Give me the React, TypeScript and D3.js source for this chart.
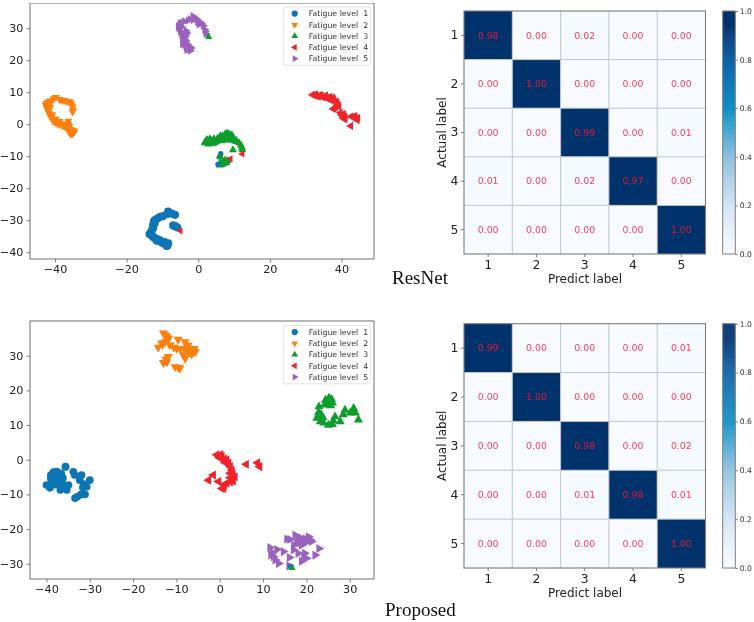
import React, { useEffect, useRef } from "react";
import * as d3 from "d3";

type Pt = [number, number];

const levelNames = ["Fatigue level  1", "Fatigue level  2", "Fatigue level  3", "Fatigue level  4", "Fatigue level  5"];
const levelColors = ["#0a74b4", "#ff7f0e", "#0a9e2c", "#f0222a", "#9a62bd"];
const classLabels = ["1", "2", "3", "4", "5"];

// ResNet t-SNE clusters
const resBlue: Pt[] = [
  [-6.5, -31.8], [-5.9, -32.2], [-7, -31.6], [-6.5, -28.3], [-7.4, -27.9], [-8.4, -27.3], [-8.6, -28], [-9.8, -28.7],
  [-10.6, -28.9], [-11.3, -29.4], [-12.1, -29.9], [-12.4, -30.4], [-12.6, -31.5], [-12.2, -31], [-12.6, -32.4],
  [-13, -33.2], [-13.6, -34.3], [-13.2, -34.6], [-12.6, -35.2], [-12.1, -35.6], [-11.6, -36.4], [-11.6, -35.8],
  [-10.8, -36.2], [-10.4, -36.8], [-9.8, -37.2], [-9.4, -36.8], [-9, -37.6], [-8.6, -37.9], [-8.4, -37.2], [-8.8, -38],
];
const resOrange: Pt[] = [
  [-35.1, 3.9], [-35, 4.5], [-35.1, 5.5], [-35.4, 6.3], [-35.8, 7], [-36.2, 7.1], [-36.7, 7.2], [-37.2, 7.4], [-37.7, 7.5],
  [-38.3, 7.6], [-38.8, 7.8], [-39.8, 8.4], [-40.4, 8], [-41.2, 7.4], [-41.8, 7.1], [-42.4, 6.6], [-42.6, 6], [-42.4, 5.4],
  [-42.2, 4.8], [-42, 4.2], [-41.7, 3.5], [-41.4, 2.8], [-41.1, 2.2], [-40.8, 1.6], [-40.5, 1], [-40, 0.6], [-39.4, 0.3],
  [-38.8, 0], [-38.2, -0.2], [-37.7, -0.5], [-37.2, -0.8], [-36.8, -1], [-36.3, -1.3], [-35.8, -1.6], [-35.4, -1.8],
  [-34.8, -2], [-34.6, -2.4], [-35.1, -2.9], [-35.6, -3.1], [-36, -2.6], [-36.3, 1], [-36.4, 0], [-36, -0.6],
  [-41.4, 5.2], [-40.8, 3], [-39.8, 1.6], [-38.8, 0.9], [-37.6, 0.2], [-41.4, 6.4],
];
const resGreen: Pt[] = [
  [2, -5.4], [2.4, -4.8], [3, -5.8], [3.2, -4.6], [3.8, -5.4], [4.4, -4.6], [4.6, -5.8], [5.2, -5], [6, -5], [6.6, -5.2],
  [6.2, -3.6], [6.8, -3.6], [7.4, -3.2], [7.9, -2.8], [8.4, -3], [8.8, -3.2], [9.4, -3.3], [7.4, -4.6], [8.2, -4.8], [8.8, -5],
  [9.4, -5], [9.8, -4.8], [10.2, -5.2], [10.7, -5.4], [11.4, -5.8], [11.9, -6.5], [12.2, -7.2], [12.3, -8], [9.7, -8],
  [6, -10], [6.1, -12], [6.9, -11.8], [7.9, -12], [7.5, -11.2], [8.2, -11.4], [6, -12.8], [6.6, -12.6], [7.2, -12.2],
  [2.6, -5.2], [3.6, -5], [5, -5.4], [10.6, -5], [1.8, -5.8], [2.8, -6.2], [4, -6], [5.4, -4.4],
];
const resRed: Pt[] = [
  [31.9, 9.2], [32.8, 9.4], [34, 9.2], [35.4, 8.8], [36.8, 8.6], [37.8, 7.8], [38.7, 7], [39.1, 6.2], [39.3, 5.5],
  [37.7, 4.8], [38.4, 5.4], [40, 2.9], [40.4, 2], [41, 1.5], [43.3, 2.4], [44, 1.8], [44.4, 1.3], [42.6, -0.5],
  [33.6, 8.6], [35.8, 8.2], [33, 8.8], [34.8, 8.4], [36.4, 7.8], [37.6, 8.4], [40.6, 3.2], [41, 2.4], [42.6, 2.4],
  [32.4, 9], [34.4, 9], [35.6, 9], [36.2, 8.4], [37.2, 7.4], [38.2, 7.2], [38.8, 6], [39.7, 3.6], [43.8, 2.6], [44.6, 2], [38, 5],
];
const resPurple: Pt[] = [
  [2.2, 28.2], [2, 29], [1.8, 29.6], [1.4, 30.8], [0.9, 31.6], [0.4, 32], [-0.4, 32.8], [-1, 33.4], [-1.5, 33.8], [-2.2, 32.8],
  [-2.8, 32.4], [-3.8, 32.2], [-4.4, 31.8], [-5, 31.6], [-5.4, 30], [-5.2, 31], [-5, 29], [-4.6, 27.9], [-3.2, 28.5], [-3.6, 27.4],
  [-4.4, 26.8], [-4.3, 25.7], [-3.8, 24.8], [-3.4, 26], [-2.8, 23.4], [-2.4, 24.2], [-3.2, 23.2], [-2.2, 23], [-3.4, 29.2],
  [-4.6, 30.4], [-1.4, 32.6], [0.2, 31.2], [-4.6, 28.8], [-3, 25], [-3.8, 26.6], [-4.2, 27.4], [-3.6, 28], [-3.4, 24],
  [-4.4, 25], [-2, 23.8], [-0.2, 32], [-5.6, 30.6],
];
const resStrays: [number, number, number][] = [
  [0, 6.3, -9.2], [0, 6.1, -10], [0, 5.5, -12.5], [2, 6.3, -10.4], [2, 2.9, 27.3],
  [3, -5, -33.3], [3, 9, -10.8], [3, 12.3, -9.3],
];

// Proposed t-SNE clusters
const propBlue: Pt[] = [
  [-39, -4.4], [-38.4, -3.6], [-37.6, -3.4], [-38, -4.8], [-39, -5.4], [-37.2, -4.4], [-36.2, -5.2], [-37.6, -6.2],
  [-37, -6.7], [-35.6, -2], [-33.8, -3.5], [-33.5, -4.4], [-31.9, -4.4], [-32.3, -5.9], [-30, -5.9], [-31.4, -7],
  [-30.7, -7.8], [-35.3, -8.7], [-36.8, -8.7], [-36, -8.2], [-40, -7.3], [-39.2, -8.1], [-34.9, -7.3], [-31.1, -10],
  [-32, -10], [-32.8, -10.6], [-33.4, -11.1], [-38.8, -6.4], [-37.4, -5.4], [-36.4, -6.4], [-36.6, -3.9], [-35.6, -2.1],
  [-31.6, -8], [-32.4, -4.9], [-35.6, -7.8], [-38, -7.2],
];
const propOrange: Pt[] = [
  [-13, 36.5], [-12.6, 36], [-12.2, 35.5], [-11.8, 35], [-12.6, 34], [-13.4, 33.6], [-14.2, 32.4], [-13.2, 33.2], [-11.5, 33.1],
  [-9.6, 34.7], [-9.9, 32.1], [-10.6, 32.4], [-8, 34], [-7.3, 33], [-8.2, 32], [-6.8, 31.8], [-5.7, 31.1], [-6.5, 30.5],
  [-7, 31], [-8, 29.2], [-8.4, 30.2], [-11.9, 29.7], [-13, 28], [-12.2, 28.2], [-12.4, 29], [-10.3, 26.8], [-9.6, 26.6], [-9.2, 26.4],
  [-7.6, 33], [-6.2, 31], [-9.2, 32], [-5.9, 32], [-7.4, 31.4],
];
const propGreen: Pt[] = [
  [25.1, 16.4], [25.6, 16.6], [24.6, 16], [25, 17], [24.4, 17.2], [25.8, 17.4], [25.2, 17.8], [24.2, 15.8], [25.6, 15.6], [26, 16.4],
  [22.9, 15.3], [22.8, 12.4], [23.4, 13], [22.4, 12], [23.2, 11], [23.8, 12.2], [22.8, 13.6], [25.1, 10], [26, 10.2], [24, 10.6],
  [26.6, 12.4], [27.8, 11], [26.2, 11.2], [28.9, 14.3], [28.5, 13], [30.9, 14.8], [31.3, 13.5], [30.1, 13.5], [30.8, 14], [32, 11.5],
];
const propRed: Pt[] = [
  [-0.7, 1.4], [0.2, 1.5], [0.5, 0.9], [-0.1, 0.6], [1, 0.2], [1.6, 0], [2, -1], [1.2, -0.8], [2.4, -2], [2.8, -3],
  [2.4, -3.9], [3.5, -4.9], [3.1, -6.2], [2.4, -5.2], [3, -4], [1.6, -6.8], [2.4, -6.4], [1, -7.2], [0.5, -8.3], [0.9, -8.2],
  [-0.3, -6.3], [-1.5, -4.4], [-2.6, -5.9], [6.1, -1.3], [8.7, -0.9], [9.2, -2],
];
const propPurple: Pt[] = [
  [15.5, -22.9], [16.2, -23], [17.4, -21.7], [18.2, -22.6], [18.9, -22.7], [20.5, -22.2], [21.2, -23.6], [20.2, -23.6],
  [19.6, -24], [18.9, -24.6], [17.1, -24.6], [22.9, -25.6], [22, -27.5], [11.6, -25.3], [13.2, -25.9], [14.7, -26.5],
  [11.8, -27.5], [12.8, -28.9], [13.6, -29.9], [16.1, -28.2], [17, -26], [18.1, -27], [19.6, -27], [20, -28.4], [18.9, -29.3],
  [16, -30.6], [17.8, -23.6], [19.8, -22.8], [20.8, -23], [18.4, -24], [12.2, -26.8], [12.4, -28], [19.4, -28.6],
];
const propStrays: [number, number, number][] = [[0, 16.4, -30.8], [2, 16.7, -31.2]];

const resMatrix = [
  [0.98, 0, 0.02, 0, 0],
  [0, 1, 0, 0, 0],
  [0, 0, 0.99, 0, 0.01],
  [0.01, 0, 0.02, 0.97, 0],
  [0, 0, 0, 0, 1],
];
const propMatrix = [
  [0.99, 0, 0, 0, 0.01],
  [0, 1, 0, 0, 0],
  [0, 0, 0.98, 0, 0.02],
  [0, 0, 0.01, 0.98, 0.01],
  [0, 0, 0, 0, 1],
];

const cbarStops = [0, 0.2, 0.4, 0.55, 0.6, 0.7, 0.8, 0.95, 1];
const cbarColors = ["#f7fbff", "#d3e4f3", "#8fc2de", "#2a9fce", "#0a90c5", "#0a78b8", "#0a62a8", "#06306c", "#06306c"];
const cbarTicks = [0, 0.2, 0.4, 0.6, 0.8, 1];

const font = "'DejaVu Sans', sans-serif";
const frameGray = "#7d7d7d";
const textDark = "#222";
const color = d3.scaleLinear<string>().domain(cbarStops).range(cbarColors);

const symbolFor = (level: number, size: number) => {
  const shape = level === 0 ? d3.symbolCircle : d3.symbolTriangle;
  return d3.symbol().type(shape).size(size)() as string;
};
const rotations = [0, 180, 0, -90, 90];

interface ScatterProps {
  left: number;
  right: number;
  top: number;
  bottom: number;
  xDomain: [number, number];
  yDomain: [number, number];
  xTicks: number[];
  yTicks: number[];
  series: Pt[][];
  strays: [number, number, number][];
  legendTop: number;
  size: number;
  triSize: number;
}

const Scatter = (p: ScatterProps) => {
  const ref = useRef<SVGGElement>(null);

  useEffect(() => {
    const g = d3.select(ref.current);
    g.selectAll("*").remove();
    const x = d3.scaleLinear().domain(p.xDomain).range([p.left, p.right]);
    const y = d3.scaleLinear().domain(p.yDomain).range([p.bottom, p.top]);

    const marks = g.append("g");
    p.series.forEach((pts, i) => {
      marks
        .append("g")
        .selectAll("path")
        .data(pts)
        .join("path")
        .attr("d", symbolFor(i, i === 0 ? p.size : p.triSize))
        .attr("fill", levelColors[i])
        .attr("transform", (d) => `translate(${x(d[0])},${y(d[1])}) rotate(${rotations[i]})`);
    });
    marks
      .append("g")
      .selectAll("path")
      .data(p.strays)
      .join("path")
      .attr("d", (d) => symbolFor(d[0], 22))
      .attr("fill", (d) => levelColors[d[0]])
      .attr("transform", (d) => `translate(${x(d[1])},${y(d[2])}) rotate(${rotations[d[0]]})`);

    g.append("rect")
      .attr("x", p.left)
      .attr("y", p.top)
      .attr("width", p.right - p.left)
      .attr("height", p.bottom - p.top)
      .attr("fill", "none")
      .attr("stroke", frameGray)
      .attr("stroke-width", 1.1);

    const xAxis = g
      .append("g")
      .attr("transform", `translate(0,${p.bottom})`)
      .call(d3.axisBottom(x).tickValues(p.xTicks).tickSize(3.5).tickPadding(3).tickFormat(d3.format("d") as any));
    const yAxis = g
      .append("g")
      .attr("transform", `translate(${p.left},0)`)
      .call(d3.axisLeft(y).tickValues(p.yTicks).tickSize(3.5).tickPadding(3).tickFormat(d3.format("d") as any));
    [xAxis, yAxis].forEach((a) => {
      a.select(".domain").remove();
      a.selectAll("line").attr("stroke", frameGray);
      a.selectAll("text").attr("font-family", font).attr("font-size", 11.2).attr("fill", textDark);
    });

    // legend
    const lg = g.append("g").attr("transform", `translate(283.7,${p.legendTop})`);
    lg.append("rect")
      .attr("width", 86.5)
      .attr("height", 58.3)
      .attr("rx", 1.5)
      .attr("fill", "#fff")
      .attr("stroke", "#dcdcdc")
      .attr("stroke-width", 0.8);
    const row = lg
      .selectAll("g")
      .data(levelNames)
      .join("g")
      .attr("transform", (_, i) => `translate(0,${6.6 + i * 11.25})`);
    row
      .append("path")
      .attr("d", (_, i) => symbolFor(i, i === 0 ? 30 : 20))
      .attr("fill", (_, i) => levelColors[i])
      .attr("transform", (_, i) => `translate(11,0) rotate(${rotations[i]})`);
    row
      .append("text")
      .attr("x", 25)
      .attr("dy", "0.35em")
      .attr("font-family", font)
      .attr("font-size", 7.8)
      .attr("xml:space", "preserve")
      .style("white-space", "pre")
      .attr("fill", "#333")
      .text((d) => d);
  }, []);

  return <g ref={ref} />;
};

interface MatrixProps {
  top: number;
  bottom: number;
  values: number[][];
}

const Matrix = ({ top, bottom, values }: MatrixProps) => {
  const ref = useRef<SVGGElement>(null);

  useEffect(() => {
    const left = 464;
    const right = 705.5;
    const g = d3.select(ref.current);
    g.selectAll("*").remove();
    const x = d3.scaleBand().domain(classLabels).range([left, right]);
    const y = d3.scaleBand().domain(classLabels).range([top, bottom]);

    const cells = values.flatMap((row, r) => row.map((v, c) => ({ v, r, c })));
    g.append("g")
      .selectAll("rect")
      .data(cells)
      .join("rect")
      .attr("x", (d) => x(classLabels[d.c]) as number)
      .attr("y", (d) => y(classLabels[d.r]) as number)
      .attr("width", x.bandwidth())
      .attr("height", y.bandwidth())
      .attr("fill", (d) => color(d.v));

    // grid sits on the cell borders
    const edges = classLabels.slice(1);
    g.append("g")
      .selectAll("line")
      .data(edges)
      .join("line")
      .attr("x1", (d) => x(d) as number)
      .attr("x2", (d) => x(d) as number)
      .attr("y1", top)
      .attr("y2", bottom)
      .attr("stroke", "#c2c6cb")
      .attr("stroke-width", 1);
    g.append("g")
      .selectAll("line")
      .data(edges)
      .join("line")
      .attr("y1", (d) => y(d) as number)
      .attr("y2", (d) => y(d) as number)
      .attr("x1", left)
      .attr("x2", right)
      .attr("stroke", "#c2c6cb")
      .attr("stroke-width", 1);

    g.append("g")
      .selectAll("text")
      .data(cells)
      .join("text")
      .attr("x", (d) => (x(classLabels[d.c]) as number) + x.bandwidth() / 2)
      .attr("y", (d) => (y(classLabels[d.r]) as number) + y.bandwidth() / 2)
      .attr("dy", "0.35em")
      .attr("text-anchor", "middle")
      .attr("font-family", font)
      .attr("font-size", 9.4)
      .attr("fill", "#ff1a30")
      .attr("fill-opacity", 0.85)
      .text((d) => d.v.toFixed(2));

    g.append("rect")
      .attr("x", left)
      .attr("y", top)
      .attr("width", right - left)
      .attr("height", bottom - top)
      .attr("fill", "none")
      .attr("stroke", frameGray)
      .attr("stroke-width", 1.1);

    const xAxis = g
      .append("g")
      .attr("transform", `translate(0,${bottom})`)
      .call(d3.axisBottom(x).tickSize(3).tickPadding(3));
    const yAxis = g
      .append("g")
      .attr("transform", `translate(${left},0)`)
      .call(d3.axisLeft(y).tickSize(3).tickPadding(2.5));
    [xAxis, yAxis].forEach((a) => {
      a.select(".domain").remove();
      a.selectAll("line").attr("stroke", frameGray);
      a.selectAll("text").attr("font-family", font).attr("font-size", 12.4).attr("fill", textDark);
    });

    g.append("text")
      .attr("x", 585)
      .attr("y", bottom + 28.5)
      .attr("text-anchor", "middle")
      .attr("font-family", font)
      .attr("font-size", 12)
      .attr("fill", textDark)
      .text("Predict label");
    g.append("text")
      .attr("transform", `translate(446,${(top + bottom) / 2}) rotate(-90)`)
      .attr("text-anchor", "middle")
      .attr("font-family", font)
      .attr("font-size", 12)
      .attr("fill", textDark)
      .text("Actual label");

    // colour bar
    const cbLeft = 722.7;
    const cbRight = 735.3;
    const cy = d3.scaleLinear().domain([0, 1]).range([bottom, top]);
    const steps = d3.range(0, cy(0) - cy(1));
    g.append("g")
      .selectAll("rect")
      .data(steps)
      .join("rect")
      .attr("x", cbLeft)
      .attr("width", cbRight - cbLeft)
      .attr("y", (d) => top + d)
      .attr("height", 1.2)
      .attr("fill", (d) => color(cy.invert(top + d + 0.5)));
    g.append("rect")
      .attr("x", cbLeft)
      .attr("y", top)
      .attr("width", cbRight - cbLeft)
      .attr("height", bottom - top)
      .attr("fill", "none")
      .attr("stroke", frameGray)
      .attr("stroke-width", 1);
    const cAxis = g
      .append("g")
      .attr("transform", `translate(${cbRight},0)`)
      .call(d3.axisRight(cy).tickValues(cbarTicks).tickSize(2.5).tickPadding(2).tickFormat(d3.format(".1f") as any));
    cAxis.select(".domain").remove();
    cAxis.selectAll("line").attr("stroke", frameGray);
    cAxis.selectAll("text").attr("font-family", font).attr("font-size", 7.6).attr("fill", "#333");
  }, []);

  return <g ref={ref} />;
};

const App = () => (
  <svg
    width={754}
    height={622}
    viewBox="0 0 754 622"
    style={{ position: "absolute", left: 0, top: 0, display: "block", background: "#fff" }}
  >
    <defs>
      <filter id="soft" x="0" y="0" width="1" height="1">
        <feGaussianBlur stdDeviation="0.45" />
      </filter>
    </defs>
    <g filter="url(#soft)">
      <Scatter
        left={30}
        right={374}
        top={3}
        bottom={259}
        xDomain={[-47, 49.1]}
        yDomain={[-42.1, 37.9]}
        xTicks={[-40, -20, 0, 20, 40]}
        yTicks={[-40, -30, -20, -10, 0, 10, 20, 30]}
        series={[resBlue, resOrange, resGreen, resRed, resPurple]}
        strays={resStrays}
        legendTop={7}
        size={52}
        triSize={28}
      />
      <Scatter
        left={30}
        right={374}
        top={321}
        bottom={579}
        xDomain={[-43.8, 35.6]}
        yDomain={[-34.4, 40]}
        xTicks={[-40, -30, -20, -10, 0, 10, 20, 30]}
        yTicks={[-30, -20, -10, 0, 10, 20, 30]}
        series={[propBlue, propOrange, propGreen, propRed, propPurple]}
        strays={propStrays}
        legendTop={325.5}
        size={46}
        triSize={36}
      />
      <Matrix top={11} bottom={254} values={resMatrix} />
      <Matrix top={323.7} bottom={568} values={propMatrix} />
      <text x={392} y={284} fontFamily="'Liberation Serif', serif" fontSize={19} fill="#111">
        ResNet
      </text>
      <text x={385} y={616} fontFamily="'Liberation Serif', serif" fontSize={19} fill="#111">
        Proposed
      </text>
    </g>
  </svg>
);

export default App;
